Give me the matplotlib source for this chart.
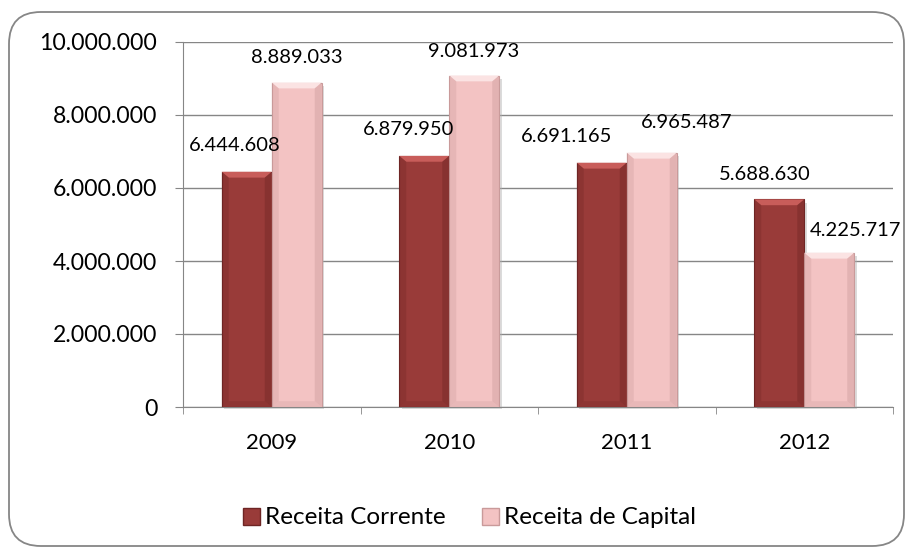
import numpy as np
import matplotlib
matplotlib.use("Agg")
import matplotlib.pyplot as plt
from matplotlib.patches import FancyBboxPatch, Polygon, Rectangle

plt.rcParams['font.family'] = ['Lato', 'DejaVu Sans']

anos = ["2009", "2010", "2011", "2012"]
receita_corrente = [6444608, 6879950, 6691165, 5688630]
receita_capital = [8889033, 9081973, 6965487, 4225717]
series_nomes = ["Receita Corrente", "Receita de Capital"]
yticks = [0, 2000000, 4000000, 6000000, 8000000, 10000000]

# deslocamento manual dos rótulos (dx, dy em pixels, a partir do topo da barra)
off_corrente = [(-11.5, 26), (-15.5, 26), (-35.5, 26), (-14, 24.5)]
off_capital = [(0, 25), (-1, 24), (35, 30), (26, 22)]

COR_ESCURA = "#993b39"
COR_CLARA = "#f3c3c3"
PX = 0.72  # pontos por pixel a 100 dpi


def fmt(v):
    return f"{v:,.0f}".replace(",", ".")


def barra(ax, x, w, h, cor, borda, luz):
    # sombra
    ax.add_patch(Rectangle((x + 0.014, -50000), w, h - 40000, facecolor="#b0b0b0",
                           edgecolor="none", alpha=0.45, zorder=2, clip_on=False))
    ax.add_patch(Rectangle((x, 0), w, h, facecolor=cor, edgecolor=borda,
                           lw=0.8, zorder=3))
    # chanfro
    b = w * 0.14
    bh = 160000
    ax.add_patch(Polygon([(x, h), (x + w, h), (x + w - b, h - bh), (x + b, h - bh)],
                         closed=True, facecolor=luz, edgecolor="none", zorder=4))
    ax.add_patch(Polygon([(x, h), (x + b, h - bh), (x + b, bh), (x, 0)],
                         closed=True, facecolor=borda, edgecolor="none", alpha=0.3, zorder=4))
    ax.add_patch(Polygon([(x + w, h), (x + w - b, h - bh), (x + w - b, bh), (x + w, 0)],
                         closed=True, facecolor=borda, edgecolor="none", alpha=0.4, zorder=4))
    ax.add_patch(Polygon([(x, 0), (x + w, 0), (x + w - b, bh), (x + b, bh)],
                         closed=True, facecolor=borda, edgecolor="none", alpha=0.25, zorder=4))


fig = plt.figure(figsize=(9.09, 5.5), dpi=100)
fig.patch.set_facecolor("white")
renderer = fig.canvas.get_renderer()


def ajusta(texto, largura_px, base=12.0):
    t = fig.text(0, 0, texto, fontsize=base)
    w = t.get_window_extent(renderer).width
    t.remove()
    return base * largura_px / w


fs_y = ajusta("10.000.000", 117)
fs_x = ajusta("2009", 51)
fs_rot = ajusta("6.444.608", 91)
fs_leg = ajusta("Receita Corrente", 180)
em_leg = fs_leg / PX

fig.patches.append(FancyBboxPatch((9 / 909, 4 / 550), 895 / 909, 534 / 550,
                                  boxstyle="round,pad=0,rounding_size=0.035",
                                  transform=fig.transFigure, facecolor="none",
                                  edgecolor="#868686", lw=1.3, mutation_aspect=909 / 550))

ax = fig.add_axes([183 / 909, 1 - 407 / 550, 710 / 909, 365 / 550])
ax.patch.set_alpha(0)
x = np.arange(len(anos))
w = 50 / 177.5

for i in range(len(anos)):
    barra(ax, x[i] - w, w, receita_corrente[i], COR_ESCURA, "#6e2524", "#c85d5a")
    barra(ax, x[i], w, receita_capital[i], COR_CLARA, "#c99a9a", "#fbe3e3")

for i in range(len(anos)):
    dx, dy = off_corrente[i]
    ax.annotate(fmt(receita_corrente[i]), (x[i] - w / 2, receita_corrente[i]),
                xytext=(dx * PX, dy * PX), textcoords="offset points",
                ha="center", va="center", fontsize=fs_rot, zorder=6)
    dx, dy = off_capital[i]
    ax.annotate(fmt(receita_capital[i]), (x[i] + w / 2, receita_capital[i]),
                xytext=(dx * PX, dy * PX), textcoords="offset points",
                ha="center", va="center", fontsize=fs_rot, zorder=6, annotation_clip=False)

ax.set_xlim(-0.5, len(anos) - 0.5)
ax.set_ylim(0, 10000000)
ax.set_yticks(yticks)
ax.set_yticklabels([fmt(v) for v in yticks], fontsize=fs_y)
ax.yaxis.grid(True, color="#868686", lw=1)
ax.set_axisbelow(True)
ax.set_xticks(x)
ax.set_xticklabels(anos, fontsize=fs_x)
ax.set_xticks(np.arange(len(anos) + 1) - 0.5, minor=True)
ax.tick_params(axis="x", which="major", length=0, pad=19)
ax.tick_params(axis="x", which="minor", length=5, color="#868686")
ax.tick_params(axis="y", length=6, color="#868686", pad=12.5)
for s in ["top", "right"]:
    ax.spines[s].set_visible(False)
for s in ["left", "bottom"]:
    ax.spines[s].set_color("#868686")

h1 = Rectangle((0, 0), 1, 1, facecolor=COR_ESCURA, edgecolor="#6e2524")
h2 = Rectangle((0, 0), 1, 1, facecolor=COR_CLARA, edgecolor="#c99a9a")
fig.legend([h1, h2], series_nomes, loc="center", bbox_to_anchor=(469.5 / 909, 1 - 518 / 550),
           ncol=2, frameon=False, fontsize=fs_leg, borderpad=0,
           handlelength=17 / em_leg, handleheight=17 / em_leg,
           handletextpad=5 / em_leg, columnspacing=37 / em_leg)

fig.savefig("out.png", dpi=100)
